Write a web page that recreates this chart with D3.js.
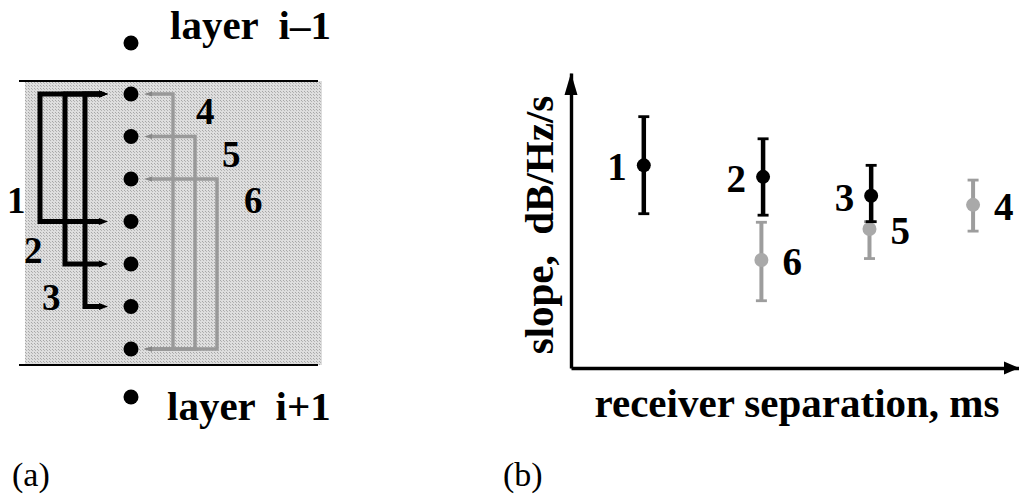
<!DOCTYPE html>
<html>
<head>
<meta charset="utf-8">
<script src="https://cdn.jsdelivr.net/npm/d3@7"></script>
<style>
  html, body { margin: 0; padding: 0; background: #fff; }
  svg { display: block; }
  text { font-family: "Liberation Serif", "Times New Roman", serif; fill: #000; }
  .bold { font-weight: bold; }
</style>
</head>
<body>
<svg id="fig" width="1019" height="494"></svg>
<script>
// ---- Panel (a): receiver layout inside one layer ----
const receivers = [0, 1, 2, 3, 4, 5, 6];            // receivers in layer i
const blackPairs = [[0, 3], [0, 4], [0, 5]];        // pairs 1, 2, 3
const greyPairs  = [[0, 6], [1, 6], [2, 6]];        // pairs 4, 5, 6
const blackPairNames = ["1", "2", "3"];
const greyPairNames  = ["4", "5", "6"];
const layerLabels = ["layer  i\u20131", "layer  i+1"];

// ---- Panel (b): slope vs. receiver separation ----
const pointNames  = ["1", "2", "3", "4", "5", "6"];
const pointSeries = ["black", "black", "black", "grey", "grey", "grey"];
const separation  = [1.30, 3.43, 5.36, 7.18, 5.33, 3.40];
const slopeMid    = [6.87, 6.48, 5.84, 5.53, 4.71, 3.66];
const slopeLow    = [5.23, 5.18, 4.96, 4.64, 3.71, 2.28];
const slopeHigh   = [8.52, 7.77, 6.87, 6.37, 4.96, 4.94];
const xAxisTitle = "receiver separation, ms";
const yAxisTitle = "slope,  dB/Hz/s";
const panelTags = ["(a)", "(b)"];

const svg = d3.select("#fig");
const defs = svg.append("defs");

// halftone stipple used for the layer background
const stip = defs.append("pattern").attr("id", "stipple")
  .attr("patternUnits", "userSpaceOnUse").attr("width", 3).attr("height", 3);
stip.append("rect").attr("width", 3).attr("height", 3).attr("fill", "#dedede");
stip.append("rect").attr("x", 1).attr("y", 1).attr("width", 1).attr("height", 1).attr("fill", "#a6a6a6");
stip.append("rect").attr("x", 2).attr("y", 2).attr("width", 1).attr("height", 1).attr("fill", "#b4b4b4");

// ================= Panel (a) =================
const A = svg.append("g");
const colX = 131;
const yRec = d3.scalePoint().domain(receivers).range([94, 349]);

A.append("rect").attr("x", 25).attr("y", 81).attr("width", 297).attr("height", 284)
  .attr("fill", "url(#stipple)");
[81, 365].forEach(y => A.append("line")
  .attr("x1", 19).attr("x2", 318).attr("y1", y).attr("y2", y)
  .attr("stroke", "#000").attr("stroke-width", 2));

// black pairs: connectors to the left of the receiver column
const blackCols = [40, 65, 85];
const bEnd = 108;
blackPairs.forEach((p, i) => {
  const y0 = yRec(p[0]), y1 = yRec(p[1]), vx = blackCols[i];
  A.append("path").attr("d", `M${bEnd - 6},${y0}H${vx}V${y1}H${bEnd - 6}`)
    .attr("fill", "none").attr("stroke", "#000").attr("stroke-width", 5);
  [y0, y1].forEach(y => A.append("path")
    .attr("d", `M${bEnd - 9},${y - 3.5}L${bEnd},${y}L${bEnd - 9},${y + 3.5}Z`)
    .attr("fill", "#000"));
});

// grey pairs: connectors to the right of the receiver column
const greyCols = [173, 195, 217];
const gEnd = 144;
greyPairs.forEach((p, i) => {
  const y0 = yRec(p[0]), y1 = yRec(p[1]), vx = greyCols[i];
  A.append("path").attr("d", `M${gEnd + 6},${y0}H${vx}V${y1}H${gEnd + 6}`)
    .attr("fill", "none").attr("stroke", "#999").attr("stroke-width", 3.4);
  [y0, y1].forEach(y => A.append("path")
    .attr("d", `M${gEnd + 8},${y - 2.5}L${gEnd},${y}L${gEnd + 8},${y + 2.5}Z`)
    .attr("fill", "#888"));
});

// receivers of layer i plus one receiver of each neighbouring layer
A.selectAll("circle.rec").data(receivers).join("circle").attr("class", "rec")
  .attr("cx", colX).attr("cy", d => yRec(d)).attr("r", 7.5).attr("fill", "#000");
[43, 397].forEach(y => A.append("circle").attr("cx", colX).attr("cy", y).attr("r", 7.5).attr("fill", "#000"));

A.append("text").attr("class", "bold").attr("x", 170).attr("y", 39)
  .attr("font-size", 41).style("white-space", "pre").text(layerLabels[0]);
A.append("text").attr("class", "bold").attr("x", 167).attr("y", 420)
  .attr("font-size", 41).style("white-space", "pre").text(layerLabels[1]);

const blackLabelPos = [[7, 213], [24, 263], [42, 310]];
const greyLabelPos  = [[196, 124], [222, 167], [244, 213]];
blackPairNames.forEach((t, i) => A.append("text").attr("class", "bold")
  .attr("x", blackLabelPos[i][0]).attr("y", blackLabelPos[i][1]).attr("font-size", 37).text(t));
greyPairNames.forEach((t, i) => A.append("text").attr("class", "bold")
  .attr("x", greyLabelPos[i][0]).attr("y", greyLabelPos[i][1]).attr("font-size", 37).text(t));

A.append("text").attr("x", 12).attr("y", 486).attr("font-size", 34).text(panelTags[0]);

// ================= Panel (b) =================
const B = svg.append("g");
const x = d3.scaleLinear().domain([0, 8]).range([571, 1019]);
const y = d3.scaleLinear().domain([0, 10]).range([368, 73]);

const xAxis = B.append("g").attr("transform", `translate(0,${y(0)})`)
  .call(d3.axisBottom(x).tickValues([]).tickSizeOuter(0));
const yAxis = B.append("g").attr("transform", `translate(${x(0)},0)`)
  .call(d3.axisLeft(y).tickValues([]).tickSizeOuter(0));
[xAxis, yAxis].forEach(g => g.select(".domain").attr("stroke", "#000").attr("stroke-width", 3.4));

// arrow heads at the far ends of both axes
const xe = x.range()[1], ye = y.range()[1];
B.append("path").attr("d", `M${xe},${y(0)}L${xe - 15},${y(0) - 6.5}L${xe - 15},${y(0) + 6.5}Z`).attr("fill", "#000");
B.append("path").attr("d", `M${x(0)},${ye}L${x(0) - 6.5},${ye + 22}L${x(0) + 6.5},${ye + 22}Z`).attr("fill", "#000");

B.append("text").attr("class", "bold").attr("x", 797).attr("y", 417)
  .attr("font-size", 41).attr("text-anchor", "middle").text(xAxisTitle);
B.append("text").attr("class", "bold")
  .attr("transform", `translate(553,225) rotate(-90)`)
  .attr("font-size", 41).attr("text-anchor", "middle").style("white-space", "pre").text(yAxisTitle);

const idx = d3.range(pointNames.length);
const colorOf = s => s === "black" ? "#000" : "#9d9d9d";
// grey series first so the black bars sit on top
const order = idx.filter(i => pointSeries[i] === "grey").concat(idx.filter(i => pointSeries[i] === "black"));

const bars = B.selectAll("g.pt").data(order).join("g").attr("class", "pt");
bars.append("line")
  .attr("x1", i => x(separation[i])).attr("x2", i => x(separation[i]))
  .attr("y1", i => y(slopeLow[i])).attr("y2", i => y(slopeHigh[i]))
  .attr("stroke", i => colorOf(pointSeries[i])).attr("stroke-width", i => pointSeries[i] === "black" ? 4.5 : 4);
[slopeLow, slopeHigh].forEach(arr => bars.append("line")
  .attr("x1", i => x(separation[i]) - 5.5).attr("x2", i => x(separation[i]) + 5.5)
  .attr("y1", i => y(arr[i])).attr("y2", i => y(arr[i]))
  .attr("stroke", i => colorOf(pointSeries[i])).attr("stroke-width", 2.8));
bars.append("circle")
  .attr("cx", i => x(separation[i])).attr("cy", i => y(slopeMid[i])).attr("r", 7)
  .attr("fill", i => pointSeries[i] === "black" ? "#000" : "#a9a9a9");

// point labels: black series to the left, grey series to the right
B.selectAll("text.pl").data(idx).join("text").attr("class", "pl bold")
  .attr("font-size", 39)
  .attr("text-anchor", i => pointSeries[i] === "black" ? "end" : "start")
  .attr("x", i => x(separation[i]) + (pointSeries[i] === "black" ? -17 : 21))
  .attr("y", i => y(slopeMid[i]) + 15)
  .text(i => pointNames[i]);

B.append("text").attr("x", 503).attr("y", 486).attr("font-size", 34).text(panelTags[1]);
</script>
</body>
</html>
